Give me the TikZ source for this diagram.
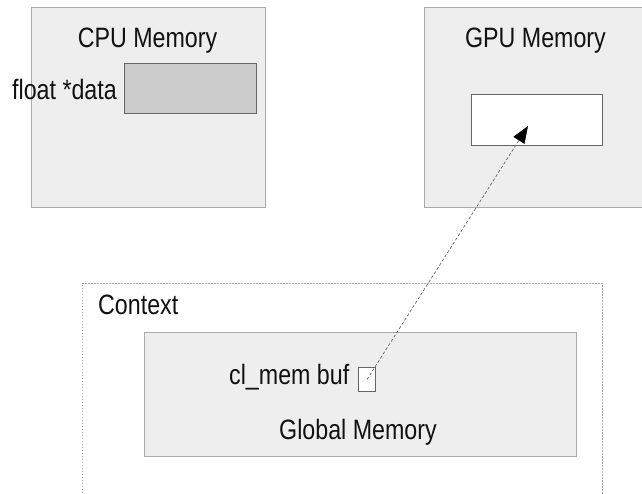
\documentclass[tikz,border=0pt]{standalone}
\usepackage{fontspec}
\usepackage{graphicx}
\setmainfont{Liberation Sans}
\usetikzlibrary{arrows.meta}
\definecolor{boxfill}{HTML}{EEEEEE}
\definecolor{boxline}{HTML}{AAAAAA}
\definecolor{darkline}{HTML}{666666}
\definecolor{datafill}{HTML}{CCCCCC}
\definecolor{txt}{HTML}{111111}
\newcommand{\narrowtxt}[1]{\scalebox{0.83}[1]{#1}}
\tikzset{
  membox/.style={draw=boxline, fill=boxfill, line width=1.2pt, rectangle, anchor=north west, inner sep=0pt},
  slot/.style={draw=darkline, line width=1.2pt, rectangle, anchor=north west, inner sep=0pt},
  lbl/.style={inner sep=0pt, text=txt, font=\fontsize{28}{32}\selectfont},
  ctxbox/.style={draw=boxline, line width=1pt, dash pattern=on 1.5pt off 1.5pt},
  link/.style={draw=darkline, line width=0.7pt, dash pattern=on 3pt off 2pt, -{Triangle[length=17pt,width=13pt,black]}}
}
\begin{document}
\begin{tikzpicture}[x=1pt,y=-1pt]
\clip (0,0) rectangle (642,493);
\fill[white] (0,0) rectangle (642,493);
% CPU memory
\node[membox, minimum width=234pt, minimum height=200pt] (cpu) at (31,7) {};
\node[lbl, anchor=base] (cputitle) at (147.5,47) {\narrowtxt{CPU Memory}};
\node[slot, fill=datafill, minimum width=132pt, minimum height=50pt] (data) at (124,63) {};
\node[lbl, anchor=base east] (datalbl) at (117,99) {\narrowtxt{float *data}};
% GPU memory
\node[membox, minimum width=230pt, minimum height=200pt] (gpu) at (424,7) {};
\node[lbl, anchor=base] (gputitle) at (535.5,47) {\narrowtxt{GPU Memory}};
\node[slot, fill=white, minimum width=131pt, minimum height=51pt] (gbuf) at (471,94) {};
\coordinate (tip) at (528,126);
% Context
\draw[ctxbox] (82,520) -- (82,283) -- (602,283) -- (602,520);
\node[lbl, anchor=base west] (ctx) at (98,314) {\narrowtxt{Context}};
\node[membox, minimum width=432pt, minimum height=124pt] (glob) at (144,332) {};
\node[lbl, anchor=base west] (buflbl) at (229,384) {\narrowtxt{cl\_mem buf}};
\node[slot, fill=white, line width=1pt, minimum width=17pt, minimum height=24pt] (buf) at (358,367) {};
\node[lbl, anchor=base west] (globlbl) at (279,439) {\narrowtxt{Global Memory}};
% connector
\draw[link] (buf.center) -- (tip);
\end{tikzpicture}
\end{document}
